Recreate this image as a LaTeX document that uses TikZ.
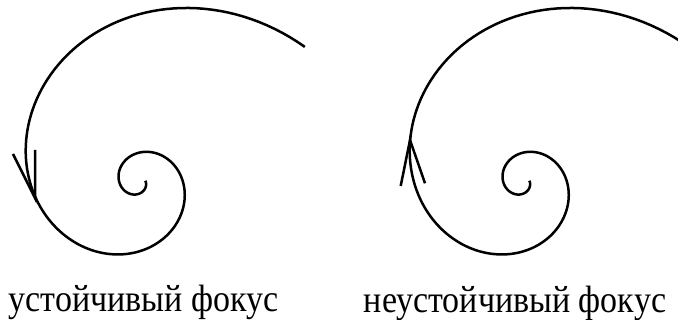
\documentclass[tikz,border=0pt]{standalone}
\usepackage{fontspec}
\setmainfont{Liberation Serif}

\begin{document}
\begin{tikzpicture}[
    x=1pt, y=1pt,
    spiralline/.style={line width=2.5pt, line join=round},
    barb/.style={line width=2.5pt, line join=miter},
    focuslabel/.style={anchor=base, font=\fontsize{34}{40}\selectfont, yscale=1.12, transform shape}
]
\clip (0,0) rectangle (678,320);

\coordinate (stable) at (138,138);
\coordinate (unstable) at (522,138);
\coordinate (stabletip) at (35,122);
\coordinate (unstabletip) at (410,180);

\draw[spiralline, shift={(stable)}]
    plot[domain=-370:321, samples=300, variable=\t] ({45*exp(0.004869*\t)*cos(-\t)}, {45*exp(0.004869*\t)*sin(-\t)});
\draw[spiralline, shift={(unstable)}]
    plot[domain=-370:321, samples=300, variable=\t] ({45*exp(0.004869*\t)*cos(-\t)}, {45*exp(0.004869*\t)*sin(-\t)});

\draw[barb] (stabletip) ++(-22,44) -- (stabletip) -- ++(0,48);
\draw[barb] (unstabletip) ++(-9.3,-46) -- (unstabletip) -- ++(15,-43.3);

\node[focuslabel] (stablelabel) at (143.5,8.5) {устойчивый фокус};
\node[focuslabel] (unstablelabel) at (515,7) {неустойчивый фокус};
\end{tikzpicture}
\end{document}
